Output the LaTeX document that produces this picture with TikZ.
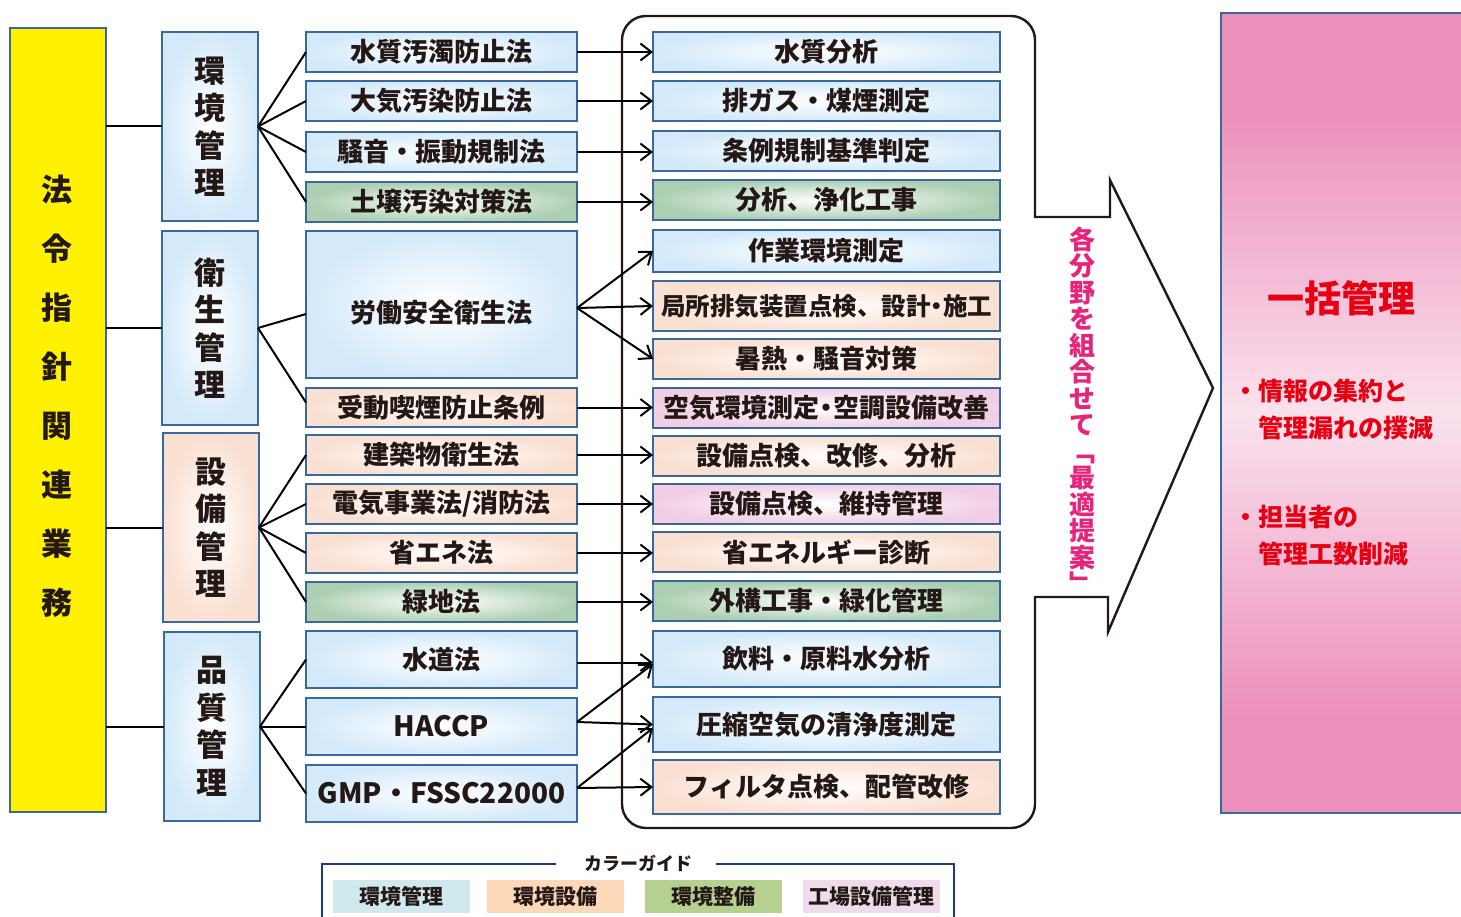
\documentclass[tikz,border=0pt]{standalone}
\usepackage{fontspec}
\setmainfont{Noto Sans CJK JP}
\usetikzlibrary{arrows.meta}
\definecolor{bord}{RGB}{58,104,156}
\definecolor{txt}{RGB}{35,24,21}
\definecolor{bluef}{RGB}{212,234,250}
\definecolor{peachf}{RGB}{250,224,210}
\definecolor{greenf}{RGB}{172,207,178}
\definecolor{pinkf}{RGB}{241,206,228}
\definecolor{yel}{RGB}{255,241,0}
\definecolor{mag}{RGB}{231,36,124}
\definecolor{redt}{RGB}{230,0,18}
\definecolor{pinkbg}{RGB}{237,143,187}
\definecolor{pinkmid}{RGB}{250,226,237}
\definecolor{navy}{RGB}{28,54,140}
\definecolor{lg1}{RGB}{207,233,239}
\definecolor{lg2}{RGB}{251,216,184}
\definecolor{lg3}{RGB}{182,209,143}
\definecolor{lg4}{RGB}{238,220,234}
\pgfdeclareverticalshading{pinkshade}{100bp}{color(0bp)=(pinkbg); color(31bp)=(pinkbg); color(50bp)=(pinkmid); color(69bp)=(pinkbg); color(100bp)=(pinkbg)}
\tikzset{
  basebox/.style={draw=bord, line width=2.4pt, inner sep=0pt, outer sep=0pt, text=txt, align=center, font=\bfseries\fontsize{26}{30}\selectfont},
  bluebox/.style={basebox, inner color=white, outer color=bluef},
  peachbox/.style={basebox, inner color=white, outer color=peachf},
  greenbox/.style={basebox, inner color=white, outer color=greenf},
  pinkbox/.style={basebox, inner color=white, outer color=pinkf},
  lawbox/.style={minimum width=271pt, minimum height=40pt},
  resbox/.style={minimum width=347pt, minimum height=40pt},
  catbox/.style={minimum width=96pt, minimum height=189pt, font=\bfseries\fontsize{31}{37.5}\selectfont},
  conn/.style={draw=black, line width=2pt},
  arr/.style={conn, -{Straight Barb[length=11pt,width=17pt]}},
  outline/.style={draw=txt, line width=2.4pt},
  legline/.style={draw=navy, line width=2.6pt},
  legitem/.style={inner sep=0pt, minimum width=137pt, minimum height=33pt, text=txt, font=\bfseries\fontsize{21}{24}\selectfont},
}
\begin{document}
\begin{tikzpicture}[x=1pt,y=-1pt]
\useasboundingbox (0,0) rectangle (1461,917);
\fill[white] (0,0) rectangle (1461,917);

% yellow column
\node[basebox, fill=yel, minimum width=96pt, minimum height=784pt] (law) at (58,420) {};
\node[text=txt, align=center, inner sep=0pt, font=\bfseries\fontsize{31}{59}\selectfont] (lawtxt) at (57,396.5) {法\\令\\指\\針\\関\\連\\業\\務};

% categories
\node[bluebox, catbox] (c1) at (210,126.5) {環\\境\\管\\理};
\node[bluebox, catbox, minimum height=194pt] (c2) at (210,328) {衛\\生\\管\\理};
\node[peachbox, catbox] (c3) at (211,527.5) {設\\備\\管\\理};
\node[bluebox, catbox] (c4) at (212,726.5) {品\\質\\管\\理};

% laws
\node[bluebox, lawbox] (l1) at (441.5,52) {水質汚濁防止法};
\node[bluebox, lawbox] (l2) at (441.5,101) {大気汚染防止法};
\node[bluebox, lawbox] (l3) at (441.5,152) {騒音・振動規制法};
\node[greenbox, lawbox] (l4) at (441.5,202) {土壌汚染対策法};
\node[bluebox, lawbox, minimum height=147pt, text height=35pt, text depth=0pt] (l5) at (441.5,304.5) {労働安全衛生法};
\node[peachbox, lawbox, minimum height=39pt] (l6) at (441.5,407.5) {受動喫煙防止条例};
\node[peachbox, lawbox] (l7) at (441.5,455) {建築物衛生法};
\node[peachbox, lawbox] (l8) at (441.5,504) {電気事業法/消防法};
\node[peachbox, lawbox] (l9) at (441.5,553) {省エネ法};
\node[greenbox, lawbox] (l10) at (441.5,602) {緑地法};
\node[bluebox, lawbox, minimum height=57pt] (l11) at (441.5,659.5) {水道法};
\node[bluebox, lawbox, minimum height=57pt, font=\bfseries\fontsize{28}{30}\selectfont] (l12) at (441.5,726.5) {HACCP};
\node[bluebox, lawbox, minimum height=57pt, font=\bfseries\fontsize{28}{30}\selectfont] (l13) at (441.5,793.5) {GMP・FSSC22000};

% results
\node[bluebox, resbox] (r1) at (826.5,52) {水質分析};
\node[bluebox, resbox] (r2) at (826.5,101) {排ガス・煤煙測定};
\node[bluebox, resbox] (r3) at (826.5,151) {条例規制基準判定};
\node[greenbox, resbox] (r4) at (826.5,200) {分析、浄化工事};
\node[bluebox, resbox, minimum height=42pt] (r5) at (826.5,251) {作業環境測定};
\node[peachbox, resbox, minimum height=50pt, font=\bfseries\fontsize{24.5}{30}\selectfont] (r6) at (826.5,306) {局所排気装置点検、設計\kern-6pt・\kern-6pt施工};
\node[peachbox, resbox] (r7) at (826.5,359) {暑熱・騒音対策};
\node[pinkbox, resbox, font=\bfseries\fontsize{26}{30}\selectfont] (r8) at (826.5,408) {空気環境測定\kern-6pt・\kern-6pt空調設備改善};
\node[peachbox, resbox] (r9) at (826.5,456) {設備点検、改修、分析};
\node[pinkbox, resbox] (r10) at (826.5,504) {設備点検、維持管理};
\node[peachbox, resbox] (r11) at (826.5,552) {省エネルギー診断};
\node[greenbox, resbox] (r12) at (826.5,601) {外構工事・緑化管理};
\node[bluebox, resbox, minimum height=56pt] (r13) at (826.5,659) {飲料・原料水分析};
\node[bluebox, resbox, minimum height=55pt] (r14) at (826.5,724.5) {圧縮空気の清浄度測定};
\node[peachbox, resbox, minimum height=54pt] (r15) at (826.5,787) {フィルタ点検、配管改修};

% bracket + big arrow outline
\draw[outline] (1035,217) -- (1035,40) .. controls (1035,26.7) and (1024.3,16) .. (1011,16) -- (646,16) .. controls (632.7,16) and (622,26.7) .. (622,40) -- (622,804) .. controls (622,817.3) and (632.7,828) .. (646,828) -- (1011,828) .. controls (1024.3,828) and (1035,817.3) .. (1035,804) -- (1035,597) -- (1108,597) -- (1108,632) -- (1213,388) -- (1110,180) -- (1110,217) -- cycle;

% yellow to categories
\foreach \c in {c1,c2,c3,c4} \draw[conn] (law.east |- \c.west) -- (\c.west);

% fans
\foreach \l in {l1,l2,l3,l4} \draw[conn] (c1.east) -- (\l.west);
\draw[conn] (c2.east) -- ([yshift=-9.5pt]l5.west);
\draw[conn] (c2.east) -- ([yshift=5pt]l6.west);
\foreach \l in {l7,l8,l9,l10} \draw[conn] (c3.east) -- (\l.west);
\foreach \l in {l11,l12,l13} \draw[conn] (c4.east) -- (\l.west);

% arrows
\draw[arr] (l1.east) -- (l1.east -| r1.west);
\draw[arr] (l2.east) -- (l2.east -| r2.west);
\draw[arr] (l3.east) -- (l3.east -| r3.west);
\draw[arr] (l4.east) -- (l4.east -| r4.west);
\draw[arr] ([yshift=-3.5pt]l5.east) -- (r5.west);
\draw[arr] ([yshift=-3.5pt]l5.east) -- (r6.west);
\draw[arr] ([yshift=-3.5pt]l5.east) -- (r7.west);
\draw[arr] (l6.east) -- (l6.east -| r8.west);
\draw[arr] (l7.east) -- (l7.east -| r9.west);
\draw[arr] (l8.east) -- (l8.east -| r10.west);
\draw[arr] (l9.east) -- (l9.east -| r11.west);
\draw[arr] (l10.east) -- (l10.east -| r12.west);
\draw[arr] ([yshift=-3pt]l11.east) -- ([yshift=-3pt]l11.east -| r13.west);
\draw[arr] ([yshift=4.5pt]l12.east) -- ([yshift=-5pt]r13.west);
\draw[arr] ([yshift=4.5pt]l12.east) -- (r14.west);
\draw[arr] ([yshift=5.5pt]l13.east) -- ([yshift=-3.5pt]r14.west);
\draw[arr] ([yshift=5.5pt]l13.east) -- (r15.west);

% vertical magenta text
\node[text=mag, align=center, inner sep=0pt, font=\bfseries\fontsize{26}{26.5}\selectfont] (teian) at (1082,410) {各\\分\\野\\を\\組\\合\\せ\\て\\﹁\\最\\適\\提\\案\\﹂};

% pink panel
\node[draw=bord, line width=2.4pt, shading=pinkshade, minimum width=260pt, minimum height=800pt, inner sep=0pt, anchor=north west] (panel) at (1220,12) {};
\node[text=redt, inner sep=0pt, font=\bfseries\fontsize{37}{40}\selectfont] (ikkatsu) at (1341,298) {一括管理};
\node[text=redt, align=left, anchor=west, inner sep=0pt, font=\bfseries\fontsize{25}{37}\selectfont] (merit1) at (1233,409.5) {・情報の集約と\\\hspace*{25pt}管理漏れの撲滅};
\node[text=redt, align=left, anchor=west, inner sep=0pt, font=\bfseries\fontsize{25}{37}\selectfont] (merit2) at (1233,535.5) {・担当者の\\\hspace*{25pt}管理工数削減};

% legend
\node[text=txt, inner sep=0pt, font=\bfseries\fontsize{18}{20}\selectfont] (legtitle) at (638,863) {カラーガイド};
\draw[legline] (556,864) -- (322,864) -- (322,930);
\draw[legline] (716,864) -- (954,864) -- (954,930);
\node[legitem, fill=lg1] (g1) at (401.5,896.5) {環境管理};
\node[legitem, fill=lg2] (g2) at (555.5,896.5) {環境設備};
\node[legitem, fill=lg3] (g3) at (713.5,896.5) {環境整備};
\node[legitem, fill=lg4] (g4) at (871.5,896.5) {工場設備管理};
\end{tikzpicture}
\end{document}
